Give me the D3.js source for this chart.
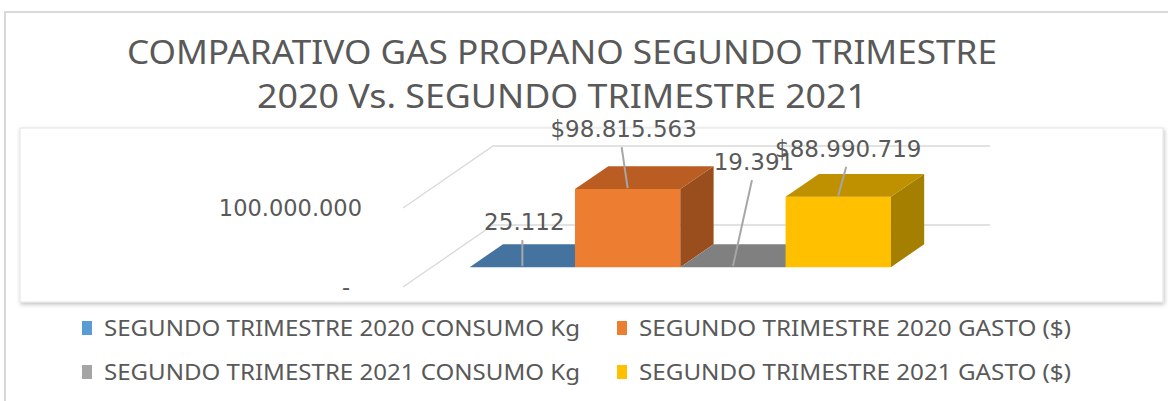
<!DOCTYPE html>
<html>
<head>
<meta charset="utf-8">
<script src="https://cdn.jsdelivr.net/npm/d3@7"></script>
<style>
  html,body{margin:0;padding:0;background:#fff;}
  svg{display:block;}
</style>
</head>
<body>
<svg id="chart" width="1168" height="401"></svg>
<script>
// data
const titleLines=["COMPARATIVO GAS PROPANO SEGUNDO TRIMESTRE","2020 Vs. SEGUNDO TRIMESTRE 2021"];
const categories=[
  "SEGUNDO TRIMESTRE 2020 CONSUMO Kg",
  "SEGUNDO TRIMESTRE 2020 GASTO ($)",
  "SEGUNDO TRIMESTRE 2021 CONSUMO Kg",
  "SEGUNDO TRIMESTRE 2021 GASTO ($)"
];
const values=[25112,98815563,19391,88990719];
const valueLabels=["25.112","$98.815.563","19.391","$88.990.719"];
const yTicks=[0,100000000];
const yTickLabels=["-","100.000.000"];

// styles
const colors=["#5b9bd5","#ed7d31","#a5a5a5","#ffc000"];
const topColors=["#44739f","#b95d22","#808080","#bf9000"];
const sideColors=["#3a6188","#9a4e1d","#6b6b6b","#a47f00"];
const labelOffsets=[[2,-37],[-4,-52],[21,-97],[10,-40]];
const yLabelRight=[350,362];

const svg=d3.select("#chart");
const textColor="#595959";

// outer frame
svg.append("path")
  .attr("d","M5,401V12H1168")
  .attr("fill","none").attr("stroke","#d9d9d9").attr("stroke-width",2);

// plot area box with shadow
const defs=svg.append("defs");
const f=defs.append("filter").attr("id","sh").attr("x","-2%").attr("y","-10%").attr("width","104%").attr("height","125%");
f.append("feDropShadow").attr("dx",1).attr("dy",2).attr("stdDeviation",2).attr("flood-color","#000").attr("flood-opacity",0.25);
svg.append("rect").attr("x",20).attr("y",128).attr("width",1143).attr("height",174)
  .attr("fill","#fff").attr("stroke","#e3e3e3").attr("filter","url(#sh)");

// title
svg.selectAll(".title").data(titleLines).join("text")
  .attr("class","title")
  .attr("x",(d,i)=>i===0?127:257)
  .attr("y",(d,i)=>64+i*44)
  .attr("textLength",(d,i)=>i===0?870:610)
  .attr("lengthAdjust","spacingAndGlyphs")
  .attr("font-family","'Noto Sans',sans-serif")
  .attr("font-size",32)
  .attr("fill",textColor)
  .text(d=>d);

// 3d projection
const floorY=287,DX=90,DY=62;
const x=d3.scaleBand().domain(categories).range([403,900]).paddingInner(0).paddingOuter(0.36);
const y=d3.scaleLinear().domain([0,100000000]).range([0,79]);
const P=(px,v,z)=>[px+z*DX,floorY-y(v)-z*DY];
const z0=0.32,z1=0.69;

// gridlines (wall + back)
const g=svg.append("g");
yTicks.forEach(t=>{
  const a=P(403,t,0),b=P(403,t,1),c=P(900,t,1);
  g.append("path")
    .attr("d",`M${a}L${b}L${c}`)
    .attr("fill","none").attr("stroke","#d9d9d9").attr("stroke-width",1.3);
});

// y labels
svg.selectAll(".ylab").data(yTicks).join("text")
  .attr("class","ylab")
  .attr("x",(d,i)=>yLabelRight[i])
  .attr("y",d=>P(403,d,0)[1]+8)
  .attr("text-anchor","end")
  .attr("font-family","'DejaVu Sans',sans-serif")
  .attr("font-size",22.5)
  .attr("fill",textColor)
  .text((d,i)=>yTickLabels[i]);

// bars
const series=categories.map((c,i)=>({key:c,value:values[i],i}));
const bars=svg.append("g");
series.forEach(d=>{
  const x0=x(d.key),x1=x0+x.bandwidth();
  const pts=(arr)=>arr.map(p=>P(p[0],p[1],p[2]).join(",")).join(" ");
  // front
  bars.append("polygon")
    .attr("points",pts([[x0,0,z0],[x1,0,z0],[x1,d.value,z0],[x0,d.value,z0]]))
    .attr("fill",colors[d.i]);
  // side
  bars.append("polygon")
    .attr("points",pts([[x1,0,z0],[x1,0,z1],[x1,d.value,z1],[x1,d.value,z0]]))
    .attr("fill",sideColors[d.i]);
  // top
  bars.append("polygon")
    .attr("points",pts([[x0,d.value,z0],[x1,d.value,z0],[x1,d.value,z1],[x0,d.value,z1]]))
    .attr("fill",topColors[d.i]);
});

// data labels with leader lines
series.forEach(d=>{
  const cx=x(d.key)+x.bandwidth()/2;
  const [ax,ay]=P(cx,d.value,z0);
  const lx=ax+labelOffsets[d.i][0],ly=ay+labelOffsets[d.i][1];
  svg.append("line")
    .attr("x1",lx-2).attr("y1",ly+10).attr("x2",ax).attr("y2",ay-1)
    .attr("stroke","#a6a6a6").attr("stroke-width",2);
  svg.append("text")
    .attr("x",lx).attr("y",ly)
    .attr("text-anchor","middle")
    .attr("font-family","'DejaVu Sans',sans-serif")
    .attr("font-size",23)
    .attr("fill",textColor)
    .text(valueLabels[d.i]);
});

// legend
const legendPos=[[82,336],[617,336],[82,380],[617,380]];
const legendLen=[476,432,476,432];
const lg=svg.selectAll(".leg").data(series).join("g")
  .attr("class","leg")
  .attr("transform",d=>`translate(${legendPos[d.i][0]},${legendPos[d.i][1]})`);
lg.append("rect").attr("x",0).attr("y",-15).attr("width",10).attr("height",14)
  .attr("fill",d=>colors[d.i]);
lg.append("text")
  .attr("x",22).attr("y",0)
  .attr("textLength",d=>legendLen[d.i])
  .attr("lengthAdjust","spacingAndGlyphs")
  .attr("font-family","'Noto Sans',sans-serif")
  .attr("font-size",21)
  .attr("fill",textColor)
  .text(d=>d.key);
</script>
</body>
</html>
